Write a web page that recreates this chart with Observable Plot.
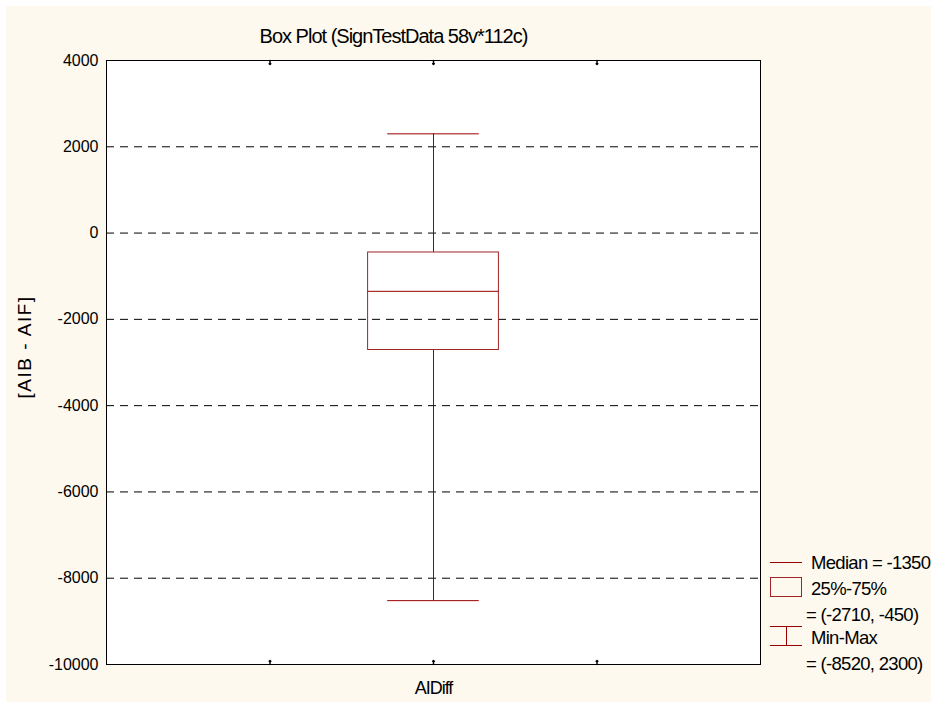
<!DOCTYPE html>
<html><head><meta charset="utf-8">
<script src="https://cdn.jsdelivr.net/npm/d3@7"></script>
<script src="https://cdn.jsdelivr.net/npm/@observablehq/plot@0.6"></script>
<style>
html,body{margin:0;padding:0;background:#fff;width:931px;height:702px;overflow:hidden;}
#bg{position:absolute;left:6px;top:6px;width:925px;height:696px;background:#fdf9ee;}
#chart{position:absolute;left:0;top:0;}
svg{font-family:"Liberation Sans",Arial,sans-serif;}
</style></head><body><div id="bg"></div><div id="chart"></div>
<script>
const title = "Box Plot (SignTestData 58v*112c)";
const categories = ["AIDiff"];
const yLabel = "[AIB - AIF]";
const minVals = [-8520];
const q1Vals = [-2710];
const medianVals = [-1350];
const q3Vals = [-450];
const maxVals = [2300];
const yTicks = [4000, 2000, 0, -2000, -4000, -6000, -8000, -10000];
const gridValues = [2000, 0, -2000, -4000, -6000, -8000];
const xTickPositions = [0.25, 0.5, 0.75];
const legendLines = ["Median = -1350", "25%-75%", "= (-2710, -450)", "Min-Max", "= (-8520, 2300)"];

const boxes = categories.map((c, i) => ({
  name: c, pos: (i + 1) / (categories.length + 1),
  min: minVals[i], q1: q1Vals[i], median: medianVals[i], q3: q3Vals[i], max: maxVals[i]
}));
const boxHalf = 0.1, capHalf = 0.07;
const red = "#990000";
const boxRed = "#a02424";

const plot = Plot.plot({
  width: 931, height: 702,
  marginLeft: 106, marginRight: 171, marginTop: 60, marginBottom: 38,
  style: {background: "transparent", fontFamily: "'Liberation Sans', Arial, sans-serif"},
  x: {domain: [0, 1], axis: null},
  y: {domain: [-10000, 4000], axis: null},
  marks: [
    Plot.frame({fill: "white", stroke: "none"}),
    Plot.ruleY(gridValues, {stroke: "black", strokeDasharray: "8,6", strokeWidth: 1}),
    Plot.axisY({anchor: "left", ticks: yTicks, tickSize: 0, tickPadding: 8, fontSize: 16,
      tickFormat: d => String(d), label: null, fill: "black"}),
    Plot.vector(xTickPositions, {x: d => d, y: () => -10000, length: 4, rotate: 0, anchor: "start", stroke: "black"}),
    Plot.vector(xTickPositions, {x: d => d, y: () => 4000, length: 4, rotate: 180, anchor: "start", stroke: "black"}),
    Plot.ruleX(boxes, {x: "pos", y1: "q3", y2: "max", stroke: red}),
    Plot.ruleX(boxes, {x: "pos", y1: "min", y2: "q1", stroke: red}),
    Plot.ruleY(boxes, {x1: d => d.pos - capHalf, x2: d => d.pos + capHalf, y: "max", stroke: red}),
    Plot.ruleY(boxes, {x1: d => d.pos - capHalf, x2: d => d.pos + capHalf, y: "min", stroke: red}),
    Plot.rect(boxes, {x1: d => d.pos - boxHalf, x2: d => d.pos + boxHalf, y1: "q1", y2: "q3", fill: "none", stroke: boxRed}),
    Plot.ruleY(boxes, {x1: d => d.pos - boxHalf, x2: d => d.pos + boxHalf, y: "median", stroke: red}),
    Plot.text(boxes, {x: "pos", y: () => -10000, text: "name", dy: 24, fontSize: 18, fill: "black",
      textAnchor: "middle", lineAnchor: "middle"}),
    Plot.frame({stroke: "black"})
  ]
});
document.getElementById("chart").appendChild(plot);

const svg = d3.select(plot);
svg.selectAll("text").filter(function() { return this.textContent === categories[0]; })
  .attr("letter-spacing", "-1");
svg.append("text").attr("x", 393.5).attr("y", 43).attr("text-anchor", "middle")
  .attr("font-size", 20).attr("letter-spacing", "-1").attr("fill", "black").text(title);
svg.append("text").attr("transform", "translate(31,347) rotate(-90)").attr("text-anchor", "middle")
  .attr("font-size", 19).attr("letter-spacing", "1.5").attr("fill", "black").text(yLabel);

const lg = svg.append("g").attr("stroke", red).attr("fill", "none");
lg.append("line").attr("x1", 770).attr("x2", 802).attr("y1", 562.5).attr("y2", 562.5);
lg.append("rect").attr("x", 770.5).attr("y", 577.5).attr("width", 31).attr("height", 19).attr("stroke", boxRed);
lg.append("line").attr("x1", 770).attr("x2", 802).attr("y1", 626.5).attr("y2", 626.5);
lg.append("line").attr("x1", 770).attr("x2", 802).attr("y1", 645.5).attr("y2", 645.5);
lg.append("line").attr("x1", 786.5).attr("x2", 786.5).attr("y1", 626.5).attr("y2", 645.5);
const lt = [[811, 562], [811, 588], [806, 614], [811, 637], [806, 663]];
legendLines.forEach((t, i) => {
  svg.append("text").attr("x", lt[i][0]).attr("y", lt[i][1]).attr("dy", "0.36em")
    .attr("text-anchor", "start")
    .attr("font-size", 18.5).attr("letter-spacing", "-0.7").attr("fill", "black").text(t);
});
</script></body></html>
